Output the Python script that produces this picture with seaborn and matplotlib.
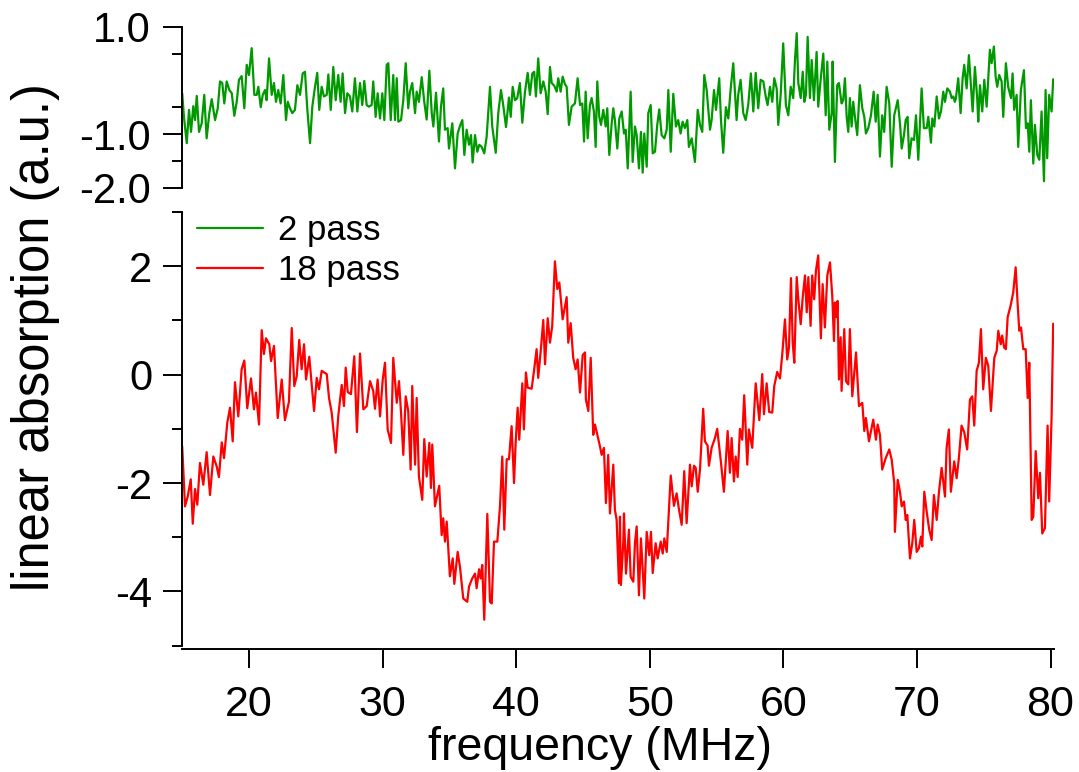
import matplotlib
matplotlib.use('Agg')
import matplotlib.pyplot as plt
from matplotlib.lines import Line2D
import seaborn as sns

# 18-pass trace (lower panel)
freq_18 = [
    15.00, 15.21, 15.41, 15.64, 15.79, 15.96, 16.13, 16.33, 16.58, 16.83,
    17.08, 17.33, 17.58, 17.75, 17.96, 18.13, 18.38, 18.58, 18.78, 18.95,
    19.20, 19.45, 19.65, 19.87, 20.15, 20.37, 20.52, 20.75, 20.95, 21.12,
    21.27, 21.52, 21.65, 21.87, 22.15, 22.45, 22.69, 22.99, 23.20, 23.39,
    23.57, 23.76, 23.94, 24.12, 24.27, 24.51, 24.87, 25.07, 25.24, 25.44,
    25.82, 25.99, 26.19, 26.49, 26.68, 26.94, 27.11, 27.24, 27.39, 27.63,
    27.88, 28.08, 28.31, 28.56, 28.81, 29.06, 29.30, 29.43, 29.63, 29.81,
    30.01, 30.18, 30.38, 30.63, 30.80, 31.06, 31.23, 31.38, 31.55, 31.73,
    31.92, 32.10, 32.22, 32.43, 32.55, 32.72, 32.97, 33.12, 33.30, 33.50,
    33.62, 33.72, 33.92, 34.24, 34.42, 34.54, 34.67, 34.80, 35.04, 35.25,
    35.37, 35.62, 35.79, 36.04, 36.34, 36.47, 36.71, 36.92, 37.04, 37.22,
    37.34, 37.46, 37.61, 37.84, 38.04, 38.17, 38.34, 38.59, 38.79, 38.96,
    39.11, 39.29, 39.46, 39.66, 39.84, 39.96, 40.11, 40.23, 40.46, 40.58,
    40.73, 40.86, 41.16, 41.35, 41.53, 41.65, 41.86, 42.03, 42.16, 42.36,
    42.53, 42.70, 42.90, 43.08, 43.23, 43.48, 43.78, 43.90, 44.08, 44.27,
    44.45, 44.60, 44.78, 44.98, 45.15, 45.22, 45.40, 45.58, 45.77, 45.90,
    46.10, 46.27, 46.40, 46.57, 46.72, 46.89, 47.02, 47.27, 47.39, 47.52,
    47.69, 47.77, 47.84, 48.02, 48.07, 48.22, 48.44, 48.57, 48.77, 48.89,
    49.02, 49.19, 49.34, 49.59, 49.77, 49.96, 50.09, 50.22, 50.44, 50.59,
    50.82, 50.97, 51.09, 51.27, 51.57, 51.81, 52.01, 52.19, 52.39, 52.58,
    52.76, 53.01, 53.14, 53.31, 53.44, 53.59, 53.76, 54.00, 54.13, 54.33,
    54.43, 54.63, 54.88, 55.05, 55.33, 55.55, 55.83, 56.00, 56.13, 56.30,
    56.43, 56.58, 56.75, 56.92, 57.07, 57.30, 57.42, 57.67, 57.93, 58.20,
    58.42, 58.55, 58.75, 58.94, 59.17, 59.32, 59.54, 59.75, 59.92, 60.12,
    60.29, 60.42, 60.57, 60.70, 60.82, 61.00, 61.12, 61.30, 61.45, 61.62,
    61.75, 61.87, 62.04, 62.16, 62.31, 62.44, 62.61, 62.81, 62.94, 63.11,
    63.29, 63.49, 63.66, 63.79, 63.86, 63.99, 64.06, 64.16, 64.29, 64.36,
    64.56, 64.69, 64.86, 64.98, 65.16, 65.44, 65.66, 65.91, 66.06, 66.18,
    66.41, 66.73, 66.93, 67.06, 67.23, 67.40, 67.66, 67.93, 68.11, 68.30,
    68.35, 68.56, 68.73, 68.86, 69.03, 69.16, 69.28, 69.48, 69.65, 69.80,
    69.98, 70.15, 70.30, 70.40, 70.55, 70.73, 70.92, 71.10, 71.27, 71.48,
    71.65, 71.85, 72.10, 72.22, 72.39, 72.54, 72.79, 72.97, 73.14, 73.34,
    73.54, 73.76, 73.97, 74.14, 74.29, 74.47, 74.64, 74.79, 74.96, 75.16,
    75.34, 75.54, 75.79, 75.97, 76.09, 76.27, 76.38, 76.53, 76.66, 76.79,
    77.01, 77.21, 77.39, 77.54, 77.66, 77.79, 77.96, 78.14, 78.29, 78.41,
    78.59, 78.71, 78.89, 79.08, 79.21, 79.38, 79.58, 79.78, 79.90, 80.08,
    80.20,
]
abs_18 = [
    -1.32, -2.43, -2.25, -1.93, -2.75, -2.11, -2.40, -1.63, -2.03, -1.43,
    -2.22, -1.51, -1.69, -1.89, -1.25, -1.54, -0.88, -0.61, -1.23, -0.14,
    -0.77, 0.10, 0.26, -0.62, -0.07, -0.64, -0.33, -0.92, 0.82, 0.38,
    0.67, 0.56, 0.25, 0.53, -0.80, -0.09, -0.84, -0.50, 0.86, -0.21,
    -0.03, 0.64, 0.10, 0.56, -0.09, 0.33, -0.67, -0.06, -0.27, 0.07,
    0.01, -0.43, -0.70, -1.44, -0.77, -0.19, -0.58, 0.13, -0.32, -0.36,
    0.34, -1.06, 0.39, -0.64, -0.58, -0.12, -0.30, -0.63, -0.09, -0.77,
    -0.09, 0.22, -1.01, -1.26, 0.31, -0.52, -0.12, -0.70, -1.48, -0.40,
    -0.67, -1.75, -0.21, -1.66, -0.43, -1.88, -2.31, -1.19, -1.88, -1.26,
    -2.09, -1.29, -2.43, -2.05, -2.96, -2.65, -3.08, -2.71, -3.72, -3.39,
    -3.86, -3.27, -3.54, -4.13, -4.19, -3.91, -3.76, -3.67, -3.94, -3.59,
    -3.76, -3.51, -4.52, -2.57, -4.19, -4.22, -3.08, -3.08, -2.42, -1.51,
    -2.86, -1.56, -1.56, -0.95, -2.00, -1.26, -0.61, -1.20, -0.16, -1.01,
    0.04, -0.24, -0.26, 0.10, 0.47, -0.06, 0.50, 1.01, 0.19, 1.04,
    0.59, 0.90, 2.09, 1.58, 1.70, 1.02, 1.43, 0.59, 0.95, 0.31,
    0.10, 0.28, -0.33, 0.36, 0.41, -0.46, -0.67, 0.31, -1.11, -0.92,
    -1.14, -1.32, -1.48, -1.35, -2.37, -1.48, -2.56, -1.66, -2.49, -2.68,
    -3.85, -2.62, -3.88, -3.08, -2.56, -3.67, -2.86, -3.73, -3.82, -3.11,
    -2.80, -4.07, -3.02, -4.13, -2.90, -3.33, -2.90, -3.66, -3.11, -3.39,
    -3.08, -3.30, -3.02, -3.27, -1.86, -2.42, -2.19, -2.49, -2.77, -1.78,
    -2.74, -1.66, -2.06, -1.68, -1.72, -2.16, -1.75, -0.63, -1.23, -1.31,
    -1.68, -1.35, -1.17, -1.00, -1.62, -2.16, -1.04, -1.81, -1.17, -1.97,
    -1.51, -1.89, -1.00, -1.20, -0.38, -1.66, -1.01, -1.35, -0.16, -0.84,
    0.01, -0.73, -0.16, -0.69, -0.70, -0.21, 0.05, -0.07, 0.38, 1.02,
    0.28, 0.50, 1.78, 0.59, 0.22, 1.80, 1.39, 0.93, 1.43, 1.83,
    1.15, 1.80, 0.90, 1.83, 1.39, 1.92, 2.20, 0.67, 1.67, 0.87,
    1.83, 2.07, 1.46, 0.62, 1.33, 1.06, 1.36, -0.09, 0.69, -0.30,
    0.84, -0.12, -0.18, 0.84, -0.40, 0.41, -0.58, -0.52, -1.04, -0.80,
    -1.23, -0.83, -1.20, -0.92, -1.11, -1.75, -1.54, -1.38, -1.57, -2.00,
    -2.90, -1.94, -2.16, -2.43, -2.34, -2.68, -2.59, -3.39, -3.11, -2.68,
    -3.27, -3.20, -2.99, -3.17, -2.16, -2.53, -2.86, -3.05, -2.22, -2.68,
    -2.16, -1.72, -2.25, -1.35, -1.01, -2.16, -1.60, -1.91, -1.54, -0.94,
    -1.06, -1.38, -0.46, -0.40, -0.94, 0.07, 0.22, 0.84, -0.27, 0.31,
    0.16, -0.67, 0.31, 0.44, 0.81, 0.56, 0.72, 0.50, 0.47, 1.06,
    1.27, 1.52, 1.98, 1.30, 0.81, 0.87, 0.47, 0.47, -0.43, 0.22,
    -2.68, -2.62, -1.41, -2.28, -1.81, -2.93, -2.83, -0.94, -2.34, -0.77,
    0.94,
]

# 2-pass trace (upper panel)
freq_2 = [
    15.00, 15.13, 15.34, 15.51, 15.66, 15.83, 15.96, 16.09, 16.26, 16.46,
    16.65, 16.83, 17.03, 17.21, 17.46, 17.66, 17.83, 18.00, 18.15, 18.33,
    18.53, 18.71, 18.90, 19.08, 19.25, 19.45, 19.65, 19.83, 20.00, 20.20,
    20.40, 20.58, 20.70, 20.88, 21.03, 21.20, 21.32, 21.50, 21.70, 21.87,
    22.02, 22.19, 22.37, 22.57, 22.77, 22.90, 23.07, 23.24, 23.44, 23.62,
    23.82, 24.02, 24.19, 24.36, 24.57, 24.74, 24.94, 25.11, 25.26, 25.44,
    25.61, 25.82, 25.94, 26.12, 26.31, 26.49, 26.68, 26.86, 27.01, 27.19,
    27.36, 27.56, 27.73, 27.93, 28.11, 28.31, 28.48, 28.63, 28.81, 28.98,
    29.18, 29.30, 29.48, 29.63, 29.81, 29.98, 30.13, 30.31, 30.43, 30.61,
    30.80, 30.93, 31.06, 31.18, 31.38, 31.55, 31.73, 31.92, 32.05, 32.22,
    32.43, 32.55, 32.72, 32.93, 33.12, 33.30, 33.50, 33.68, 33.80, 34.00,
    34.22, 34.37, 34.54, 34.67, 34.87, 34.97, 35.22, 35.42, 35.62, 35.79,
    35.97, 36.12, 36.29, 36.47, 36.62, 36.74, 36.92, 37.09, 37.24, 37.42,
    37.61, 37.79, 38.04, 38.21, 38.47, 38.66, 38.86, 39.03, 39.24, 39.46,
    39.59, 39.74, 39.91, 40.08, 40.28, 40.46, 40.66, 40.86, 41.03, 41.21,
    41.35, 41.48, 41.65, 41.83, 42.03, 42.21, 42.36, 42.53, 42.66, 42.85,
    43.03, 43.15, 43.33, 43.48, 43.65, 43.78, 43.95, 44.15, 44.40, 44.60,
    44.78, 44.95, 45.08, 45.20, 45.35, 45.52, 45.65, 45.82, 45.95, 46.07,
    46.22, 46.35, 46.52, 46.70, 46.82, 46.97, 47.15, 47.27, 47.39, 47.57,
    47.72, 47.90, 48.07, 48.20, 48.35, 48.57, 48.72, 48.89, 49.02, 49.19,
    49.34, 49.47, 49.59, 49.77, 49.89, 50.07, 50.22, 50.39, 50.56, 50.71,
    50.89, 51.09, 51.27, 51.39, 51.57, 51.76, 51.96, 52.13, 52.31, 52.46,
    52.63, 52.81, 52.93, 53.14, 53.38, 53.59, 53.76, 53.93, 54.08, 54.26,
    54.51, 54.63, 54.81, 54.96, 55.20, 55.33, 55.50, 55.70, 55.88, 56.06,
    56.25, 56.50, 56.62, 56.80, 57.00, 57.18, 57.37, 57.57, 57.75, 57.93,
    58.12, 58.30, 58.50, 58.68, 58.82, 59.00, 59.17, 59.32, 59.50, 59.62,
    59.80, 59.99, 60.19, 60.37, 60.55, 60.74, 60.87, 61.00, 61.12, 61.30,
    61.45, 61.57, 61.69, 61.82, 61.99, 62.12, 62.29, 62.49, 62.61, 62.79,
    62.99, 63.17, 63.29, 63.44, 63.62, 63.69, 63.86, 64.03, 64.16, 64.36,
    64.48, 64.61, 64.74, 64.86, 64.98, 65.11, 65.23, 65.36, 65.53, 65.73,
    65.91, 66.06, 66.18, 66.36, 66.56, 66.76, 66.91, 67.06, 67.23, 67.40,
    67.55, 67.73, 67.93, 68.11, 68.30, 68.56, 68.73, 68.86, 69.03, 69.16,
    69.30, 69.42, 69.60, 69.78, 69.93, 70.10, 70.22, 70.35, 70.52, 70.73,
    70.85, 71.05, 71.15, 71.30, 71.48, 71.65, 71.80, 71.97, 72.10, 72.27,
    72.47, 72.60, 72.72, 72.84, 72.92, 73.09, 73.27, 73.42, 73.54, 73.72,
    73.89, 74.02, 74.17, 74.34, 74.51, 74.59, 74.72, 74.89, 75.04, 75.22,
    75.34, 75.46, 75.59, 75.76, 75.89, 76.01, 76.16, 76.34, 76.46, 76.66,
    76.83, 77.04, 77.16, 77.28, 77.46, 77.58, 77.78, 78.01, 78.16, 78.29,
    78.41, 78.53, 78.71, 78.83, 79.01, 79.16, 79.33, 79.51, 79.63, 79.75,
    79.90, 80.08, 80.20,
]
abs_2 = [
    -0.24, -0.68, -1.17, -0.55, -0.96, -0.48, -0.74, -0.29, -0.96, -0.80,
    -0.27, -1.08, -0.61, -0.35, -0.74, -0.52, -0.02, -0.05, -0.43, -0.02,
    -0.18, -0.24, -0.66, -0.40, 0.01, 0.08, -0.52, 0.29, 0.10, 0.60,
    -0.27, -0.27, -0.12, -0.50, -0.27, -0.18, -0.37, 0.41, -0.27, -0.05,
    -0.40, -0.18, -0.43, 0.10, -0.74, -0.40, -0.52, -0.61, -0.55, -0.09,
    -0.27, 0.13, 0.16, -0.52, -1.17, -0.49, -0.12, 0.14, -0.55, -0.12,
    -0.30, -0.27, 0.11, -0.55, 0.25, -0.37, 0.10, -0.40, 0.13, -0.61,
    -0.24, -0.30, -0.58, 0.04, -0.58, -0.05, -0.46, -0.01, -0.46, -0.49,
    -0.46, -0.02, -0.68, -0.24, -0.71, -0.24, -0.74, 0.29, 0.32, -0.74,
    0.10, -0.74, 0.04, -0.77, -0.74, -0.37, 0.32, -0.52, -0.21, -0.05,
    -0.61, -0.21, -0.40, 0.06, -0.40, -0.73, 0.18, -0.61, -0.86, -0.23,
    -1.14, -0.49, -0.15, -0.92, -0.89, -1.27, -0.80, -1.64, -0.99, -0.85,
    -0.74, -1.39, -0.92, -1.20, -1.02, -1.53, -1.02, -1.33, -1.20, -1.24,
    -1.36, -1.05, -0.12, -0.86, -1.35, -0.61, -0.18, -0.46, -0.87, -0.32,
    -0.68, -0.12, -0.37, -0.33, -0.05, -0.79, -0.21, 0.14, -0.27, 0.13,
    0.16, -0.30, 0.41, -0.24, -0.02, -0.21, -0.63, 0.25, -0.05, -0.10,
    -0.21, 0.04, -0.21, 0.07, -0.07, -0.12, -0.83, -0.49, -0.43, 0.04,
    -0.46, -0.43, -1.14, -0.21, -1.08, -0.46, -0.33, -0.58, -1.24, -0.02,
    -0.68, -0.83, -0.55, -0.86, -0.52, -1.39, -0.80, -0.52, -0.74, -1.27,
    -0.71, -0.58, -0.99, -0.92, -1.64, -0.21, -1.52, -0.86, -1.02, -1.64,
    -0.96, -1.72, -0.99, -1.61, -0.61, -0.46, -1.36, -1.33, -0.83, -0.54,
    -1.02, -1.08, -0.92, -0.18, -1.33, -0.25, -0.86, -0.74, -0.99, -0.77,
    -0.89, -0.74, -1.24, -1.08, -1.52, -0.55, -0.83, -0.96, 0.10, -0.18,
    -0.92, -0.74, -0.18, -0.55, 0.04, -0.74, -1.35, -0.50, -0.71, -0.15,
    0.32, -0.74, -0.27, 0.01, -0.61, -0.74, -0.46, 0.13, -0.58, 0.14,
    -0.52, 0.01, -0.02, -0.30, -0.46, -0.12, -0.40, 0.04, -0.15, -0.83,
    -0.27, 0.69, -0.46, -0.65, -0.12, -0.33, 0.38, 0.88, -0.05, -0.33,
    0.16, -0.40, -0.27, 0.81, -0.33, 0.38, -0.37, 0.53, -0.49, 0.01,
    0.50, -0.65, 0.35, -0.92, -0.61, 0.35, -1.52, -0.09, -0.05, -0.43,
    -0.37, 0.04, -0.68, -0.96, -0.33, -0.86, -0.40, -0.68, -1.02, -0.09,
    -0.52, -0.68, -0.99, -0.89, -0.65, -0.21, -0.77, -0.27, -1.42, -0.65,
    -0.96, -0.12, -0.43, -1.61, -0.65, -0.37, -0.80, -1.27, -1.02, -0.74,
    -0.68, -1.45, -1.08, -1.11, -0.65, -1.48, -0.86, -0.15, -0.89, -0.89,
    -0.68, -1.16, -0.71, -0.86, -0.30, -0.71, -0.58, -0.21, -0.40, -0.15,
    -0.21, -0.33, -0.30, -0.40, -0.33, 0.04, -0.61, 0.04, 0.29, -0.15,
    0.47, -0.02, -0.58, 0.25, -0.33, -0.77, -0.09, -0.58, 0.01, -0.49,
    0.04, 0.57, 0.32, 0.63, 0.07, -0.12, 0.10, -0.02, -0.68, 0.32,
    -0.12, -0.33, 0.13, -0.55, -0.27, -1.24, -0.18, 0.19, -0.89, -0.80,
    -1.33, -0.37, -1.55, -0.83, -1.39, -1.48, -0.58, -1.88, -0.18, -1.45,
    -0.27, -0.58, 0.02,
]

top_ticks = [1.0, -1.0, -2.0]
top_labels = ['1.0', '-1.0', '-2.0']
bot_ticks = [2, 0, -2, -4]
x_ticks = [20, 30, 40, 50, 60, 70, 80]

green = '#009a00'
red = '#ff0000'

sns.set_style('ticks')
plt.rcParams['font.family'] = ['Liberation Sans', 'DejaVu Sans']
plt.rcParams['axes.unicode_minus'] = False
plt.rcParams['axes.linewidth'] = 1.4
plt.rcParams['text.color'] = 'black'
plt.rcParams['xtick.color'] = 'black'
plt.rcParams['ytick.color'] = 'black'
plt.rcParams['axes.edgecolor'] = 'black'

W, H = 1079, 772
fig = plt.figure(figsize=(W / 100, H / 100), dpi=100)

x0, x1 = 182.2, 1054.0
ax_top = fig.add_axes([x0 / W, (H - 187.7) / H, (x1 - x0) / W, 161.0 / H])
ax_bot = fig.add_axes([x0 / W, (H - 645.7) / H, (x1 - x0) / W, 433.7 / H], sharex=ax_top)

sns.lineplot(x=freq_2, y=abs_2, ax=ax_top, color=green, linewidth=1.6,
             estimator=None, sort=False)
sns.lineplot(x=freq_18, y=abs_18, ax=ax_bot, color=red, linewidth=1.6,
             estimator=None, sort=False)

ax_bot.set_xlim(15, 80.26)
ax_top.set_ylim(-2, 1)
ax_bot.set_ylim(-5, 3)

for ax in (ax_top, ax_bot):
    for s in ('top', 'right'):
        ax.spines[s].set_visible(False)
    ax.set_xlabel('')
    ax.set_ylabel('')
ax_top.spines['bottom'].set_visible(False)
ax_bot.spines['bottom'].set_position(('outward', 2.4))

# top panel ticks
ax_top.set_yticks(top_ticks, top_labels)
ax_top.set_yticks([0.5, -0.5, -1.5], minor=True)
ax_top.tick_params(axis='x', which='both', bottom=False, labelbottom=False)
ax_top.tick_params(axis='y', which='major', length=13.7, width=1.4,
                   labelsize=30, pad=9, colors='black')
ax_top.tick_params(axis='y', which='minor', length=7.2, width=1.4, colors='black')

# bottom panel ticks
ax_bot.set_yticks(bot_ticks)
ax_bot.set_yticks([3, 1, -1, -3, -5], minor=True)
ax_bot.set_xticks(x_ticks)
ax_bot.tick_params(axis='y', which='major', length=13.7, width=1.4,
                   labelsize=30, pad=8, colors='black')
ax_bot.tick_params(axis='y', which='minor', length=7.2, width=1.4, colors='black')
ax_bot.tick_params(axis='x', which='major', length=13.7, width=1.4,
                   labelsize=31, pad=12, colors='black')

handles = [Line2D([], [], color=green, linewidth=1.6),
           Line2D([], [], color=red, linewidth=1.6)]
leg = ax_bot.legend(handles, ['2 pass', '18 pass'], loc='upper left',
                    bbox_to_anchor=(197 / W, 1 - 214 / H), bbox_transform=fig.transFigure,
                    frameon=False, fontsize=25, handlelength=1.9, handletextpad=0.42,
                    labelspacing=0.2, borderpad=0, borderaxespad=0)
for t in leg.get_texts():
    t.set_color('black')

fig.text(600 / W, 12 / H, 'frequency (MHz)', ha='center', va='baseline',
         fontsize=33.5, color='black')
fig.text(36 / W, 1 - 337 / H, 'linear absorption (a.u.)', rotation=90,
         ha='center', va='center', fontsize=36.5, color='black')

fig.savefig('out.png', dpi=100)
plt.close(fig)
